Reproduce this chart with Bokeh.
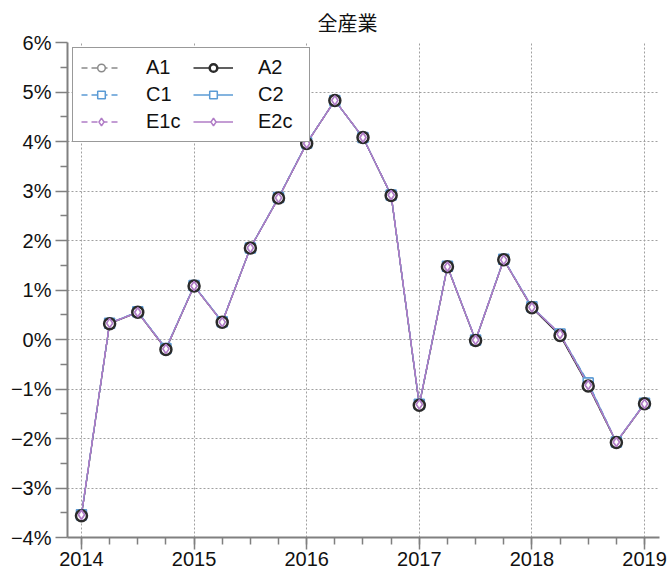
from bokeh.plotting import figure
from bokeh.models import FixedTicker, Legend, LegendItem
from bokeh.embed import file_html
from bokeh.resources import INLINE

# ---- data ----
quarters = [2014.0, 2014.25, 2014.5, 2014.75, 2015.0, 2015.25, 2015.5, 2015.75,
            2016.0, 2016.25, 2016.5, 2016.75, 2017.0, 2017.25, 2017.5, 2017.75,
            2018.0, 2018.25, 2018.5, 2018.75, 2019.0]
A1 = [-3.55, 0.33, 0.55, -0.19, 1.08, 0.35, 1.85, 2.86, 3.96, 4.83, 4.08, 2.92,
      -1.32, 1.47, -0.01, 1.61, 0.64, 0.09, -0.94, -2.08, -1.30]
A2 = [-3.56, 0.32, 0.55, -0.20, 1.08, 0.35, 1.85, 2.86, 3.96, 4.83, 4.08, 2.91,
      -1.33, 1.47, -0.02, 1.61, 0.64, 0.08, -0.94, -2.08, -1.30]
C1 = [-3.53, 0.33, 0.56, -0.18, 1.09, 0.36, 1.85, 2.87, 3.97, 4.83, 4.08, 2.92,
      -1.31, 1.48, -0.01, 1.62, 0.66, 0.11, -0.87, -2.07, -1.29]
C2 = [-3.54, 0.33, 0.56, -0.18, 1.09, 0.36, 1.85, 2.87, 3.97, 4.83, 4.08, 2.92,
      -1.31, 1.48, -0.01, 1.62, 0.66, 0.11, -0.88, -2.07, -1.29]
E1c = [-3.54, 0.33, 0.55, -0.19, 1.08, 0.35, 1.85, 2.86, 3.96, 4.83, 4.08, 2.92,
       -1.31, 1.47, -0.01, 1.61, 0.65, 0.11, -0.92, -2.07, -1.30]
E2c = [-3.54, 0.33, 0.55, -0.19, 1.08, 0.35, 1.85, 2.86, 3.96, 4.83, 4.08, 2.92,
       -1.31, 1.47, -0.01, 1.61, 0.65, 0.11, -0.92, -2.07, -1.30]

x_ticks = [2014, 2015, 2016, 2017, 2018, 2019]
x_labels = ["2014", "2015", "2016", "2017", "2018", "2019"]
y_ticks = [-4, -3, -2, -1, 0, 1, 2, 3, 4, 5, 6]
y_labels = ["\u22124%", "\u22123%", "\u22122%", "\u22121%", "0%", "1%", "2%", "3%", "4%", "5%", "6%"]
title_text = "全産業"

FONT = "Liberation Sans"

p = figure(width=667, height=574, output_backend="svg", toolbar_location=None,
           x_range=(2013.876, 2019.133), y_range=(-4, 6),
           min_border_left=67, min_border_right=8, min_border_top=40, min_border_bottom=37)
p.outline_line_color = None

p.title.text = title_text
p.title.text_font = "Noto Sans CJK JP"
p.title.text_font_style = "normal"
p.title.text_font_size = "20px"
p.title.text_color = "#111111"
p.title.align = "left"
p.title.offset = 250
p.title.standoff = 11

# axes
p.xaxis.ticker = FixedTicker(ticks=x_ticks, minor_ticks=[q for q in quarters])
p.xaxis.major_label_overrides = {t: l for t, l in zip(x_ticks, x_labels)}
p.yaxis.ticker = FixedTicker(ticks=y_ticks, minor_ticks=[t + 0.5 for t in y_ticks[:-1]])
p.yaxis.major_label_overrides = {t: l for t, l in zip(y_ticks, y_labels)}
for ax in (p.xaxis, p.yaxis):
    ax.axis_line_color = "#808080"
    ax.axis_line_width = 2
    ax.major_tick_line_color = "#808080"
    ax.minor_tick_line_color = "#808080"
    ax.major_tick_line_width = 1.5
    ax.minor_tick_line_width = 1.5
    ax.major_tick_in = 0
    ax.minor_tick_in = 0
    ax.major_tick_out = 12
    ax.minor_tick_out = 7
    ax.major_label_text_font = FONT
    ax.major_label_text_font_size = "20px"
    ax.major_label_text_color = "#111111"
p.xaxis.major_label_standoff = 2
p.yaxis.major_label_standoff = 4

for g in (p.xgrid, p.ygrid):
    g.grid_line_color = "#a0a0a0"
    g.grid_line_dash = "2 2"
    g.grid_line_width = 1

# series styling
gray_d, gray_s = "#8a8a8a", "#2b2b2b"
blue = "#5b9bd5"
purple = "#b07cc6"

def line(y, color, dash):
    return p.line(quarters, y, line_color=color, line_dash=dash, line_width=1.3)

def marks(y, color, marker, size, lw):
    return p.scatter(quarters, y, marker=marker, size=size, line_color=color,
                     fill_color="white", line_width=lw)

# lines
lA1 = line(A1, gray_d, "6 4")
lA2 = line(A2, gray_s, "solid")
lC1 = line(C1, blue, "6 4")
lC2 = line(C2, blue, "solid")
lE1 = line(E1c, purple, "6 4")
lE2 = line(E2c, purple, "solid")
# markers: squares underneath, circles over them, diamonds on top
mC1 = marks(C1, blue, "square", 9, 1.5)
mC2 = marks(C2, blue, "square", 10, 1.5)
mA1 = marks(A1, gray_d, "circle", 9, 1.5)
mA2 = marks(A2, gray_s, "circle", 11, 2.5)
mE1 = marks(E1c, purple, "diamond", 9, 1.5)
mE2 = marks(E2c, purple, "diamond", 9, 1.5)

legend = Legend(items=[
    LegendItem(label="A1", renderers=[lA1, mA1]),
    LegendItem(label="C1", renderers=[lC1, mC1]),
    LegendItem(label="E1c", renderers=[lE1, mE1]),
    LegendItem(label="A2", renderers=[lA2, mA2]),
    LegendItem(label="C2", renderers=[lC2, mC2]),
    LegendItem(label="E2c", renderers=[lE2, mE2]),
], location="top_left", nrows=3)
legend.margin = 5
legend.padding = 8
legend.spacing = 4
legend.glyph_width = 40
legend.glyph_height = 19
legend.label_height = 19
legend.label_width = 43
legend.label_standoff = 25
legend.label_text_font = FONT
legend.label_text_font_size = "20px"
legend.label_text_color = "#111111"
legend.border_line_color = "#333333"
legend.border_line_width = 1.5
legend.background_fill_color = "white"
legend.background_fill_alpha = 1.0
p.add_layout(legend, "center")

open("out.html", "w").write(file_html(p, INLINE))
